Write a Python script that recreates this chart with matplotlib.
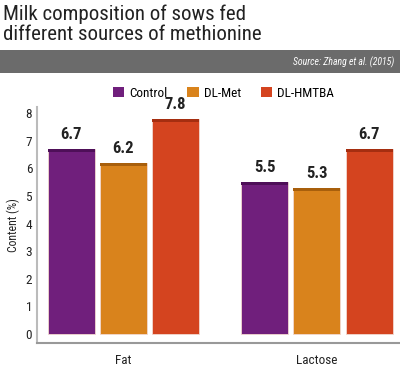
import matplotlib
matplotlib.use("Agg")
import matplotlib.pyplot as plt
from matplotlib.patches import Patch, Rectangle

# data
groups = ["Fat", "Lactose"]
series = ["Control", "DL-Met", "DL-HMTBA"]
control = [6.7, 5.5]
dl_met = [6.2, 5.3]
dl_hmtba = [7.8, 6.7]

colors = ["#701f7c", "#d9831c", "#d4441f"]
caps = ["#4e0f58", "#a85f0c", "#a52e10"]

plt.rcParams['font.family'] = ['Roboto Condensed', 'Roboto', 'DejaVu Sans']

fig = plt.figure(figsize=(4.0, 3.67), dpi=100)

# title and source band
fig.text(0.008, 0.988, "Milk composition of sows fed\ndifferent sources of methionine",
         ha="left", va="top", fontsize=15, color="#222222", linespacing=1.08)
fig.patches.append(Rectangle((0, 1 - 73 / 367), 1, 23 / 367, transform=fig.transFigure,
                             facecolor="#6b6b6b", edgecolor="none", zorder=0))
fig.text(0.985, 1 - 62 / 367, "Source: Zhang et al. (2015)", ha="right", va="center",
         fontsize=7, style="italic", color="white")

ax = fig.add_axes([37 / 400, 24 / 367, 363 / 400, 236 / 367])

width = 0.243
step = 0.269
xs = list(range(len(groups)))
for i, (name, vals) in enumerate(zip(series, [control, dl_met, dl_hmtba])):
    pos = [x + (i - 1) * step for x in xs]
    ax.bar(pos, vals, width=width, color=colors[i], edgecolor="#f2d9d0", linewidth=0.6,
           label=name, zorder=2)
    # darker cap on top of each bar
    ax.bar(pos, [0.11] * len(vals), bottom=[v - 0.11 for v in vals], width=width,
           color=caps[i], edgecolor="none", zorder=3)
    for p, v in zip(pos, vals):
        ax.annotate(f"{v}", (p, v), xytext=(0, 5), textcoords="offset points",
                    ha="center", va="bottom", fontsize=12, fontweight="bold", color="#222222")

ax.set_xlim(-0.447, 1.429)
ax.set_ylim(-0.33, 8.23)
ax.set_yticks(range(0, 9))
ax.set_xticks(xs)
ax.set_xticklabels(groups)
ax.tick_params(axis="both", length=0, labelsize=9.5, colors="#222222")
ax.tick_params(axis="x", pad=8)
ax.set_ylabel("Content (%)", fontsize=8.5, color="#222222", labelpad=4)

for s in ["top", "right"]:
    ax.spines[s].set_visible(False)
ax.spines["left"].set_color("#bbbbbb")
ax.spines["bottom"].set_color("#999999")
ax.spines["left"].set_linewidth(1.5)
ax.spines["bottom"].set_linewidth(1.5)

handles = [Patch(facecolor=c, edgecolor="none") for c in colors]
fig.legend(handles, series, loc="center", bbox_to_anchor=(0.559, 1 - 93 / 367), ncol=3,
           frameon=False, fontsize=9.5, handlelength=0.85, handleheight=0.85,
           handletextpad=0.4, columnspacing=1.5)

fig.savefig("out.png", dpi=100)
